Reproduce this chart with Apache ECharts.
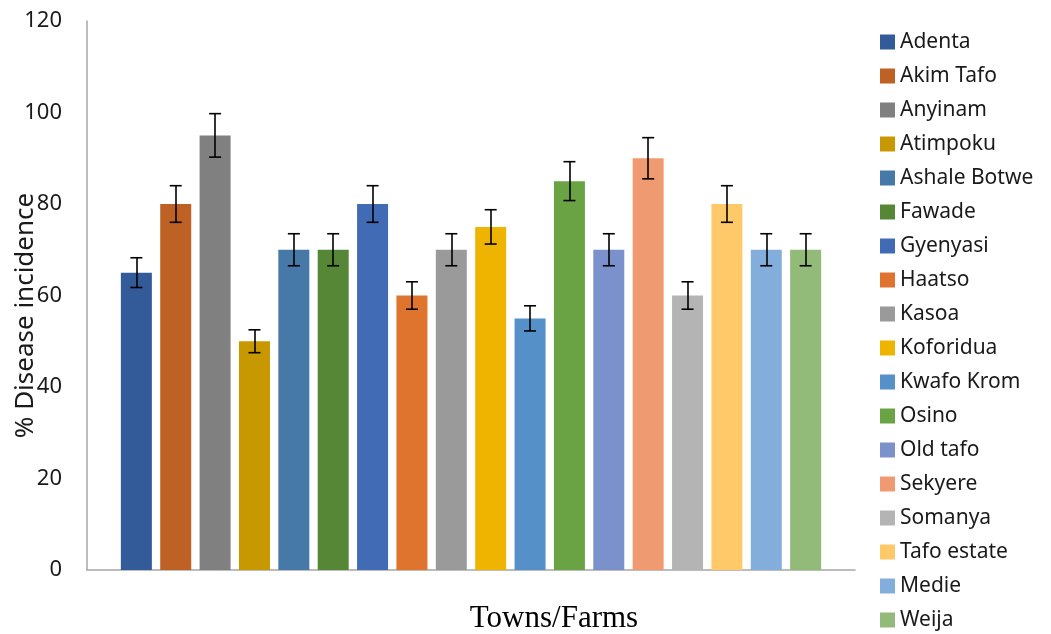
<!DOCTYPE html>
<html>
<head>
<meta charset="utf-8">
<script src="https://cdn.jsdelivr.net/npm/echarts@6/dist/echarts.min.js"></script>
<style>html,body{margin:0;padding:0;background:#fff}#c{width:1051px;height:634px}</style>
</head>
<body>
<div id="c"></div>
<script>
const towns = ['Adenta','Akim Tafo','Anyinam','Atimpoku','Ashale Botwe','Fawade','Gyenyasi','Haatso','Kasoa','Koforidua','Kwafo Krom','Osino','Old tafo','Sekyere','Somanya','Tafo estate','Medie','Weija'];
const incidence = [65, 80, 95, 50, 70, 70, 80, 60, 70, 75, 55, 85, 70, 90, 60, 80, 70, 70];
const errors = [3.25, 4, 4.75, 2.5, 3.5, 3.5, 4, 3, 3.5, 3.75, 2.75, 4.25, 3.5, 4.5, 3, 4, 3.5, 3.5];
const colors = ['#335A99','#BD6125','#808080','#C89800','#4679A8','#568736','#416BB5','#DF742E','#9A9A9A','#EEB400','#5591C8','#6AA343','#7B91CB','#F09A72','#B4B4B4','#FFC868','#83AEDB','#92BA79'];
const yTicks = {min: 0, max: 120, interval: 20};

const chart = echarts.init(document.getElementById('c'));
const series = towns.map((name, i) => ({
  name: name,
  type: 'bar',
  data: [incidence[i]],
  barWidth: 31,
  barGap: '27%',
  itemStyle: {color: colors[i]},
  emphasis: {disabled: true},
  markLine: {
    silent: true,
    animation: false,
    symbol: ['rect', 'rect'],
    symbolSize: [12, 1.6],
    label: {show: false},
    lineStyle: {color: '#000', width: 1.6, type: 'solid'},
    itemStyle: {color: '#000'},
    data: [[{coord: [0, incidence[i] - errors[i]]}, {coord: [0, incidence[i] + errors[i]]}]]
  }
}));

chart.setOption({
  animation: false,
  grid: {left: 87, right: 196, top: 21, bottom: 64, containLabel: false, outerBoundsMode: 'none'},
  legend: {
    orient: 'vertical',
    left: 880,
    top: 31,
    padding: 0,
    itemWidth: 15,
    itemHeight: 15,
    itemGap: 12,
    icon: 'rect',
    textStyle: {fontFamily: 'Noto Sans', fontSize: 21, color: '#1a1a1a', lineHeight: 22},
    data: towns
  },
  xAxis: {
    type: 'category',
    data: [''],
    axisLine: {show: true, lineStyle: {color: '#A6A6A6', width: 1.5}},
    axisTick: {show: false},
    axisLabel: {show: false},
    splitLine: {show: false},
    name: 'Towns/Farms',
    nameLocation: 'middle',
    nameMoveOverlap: false,
    nameGap: 33,
    nameTextStyle: {fontFamily: 'Liberation Serif', fontSize: 31, color: '#000', padding: [0, 0, 0, 166]}
  },
  yAxis: {
    type: 'value',
    min: yTicks.min,
    max: yTicks.max,
    interval: yTicks.interval,
    axisLine: {show: true, lineStyle: {color: '#A6A6A6', width: 1.5}},
    axisTick: {show: false},
    splitLine: {show: false},
    axisLabel: {fontFamily: 'Noto Sans', fontSize: 22, color: '#1a1a1a', margin: 25},
    name: '% Disease incidence',
    nameLocation: 'middle',
    nameMoveOverlap: false,
    nameGap: 48,
    nameTextStyle: {fontFamily: 'Noto Sans', fontSize: 26, color: '#1a1a1a', padding: [0, 40, 0, 0]}
  },
  series: series
});
</script>
</body>
</html>
